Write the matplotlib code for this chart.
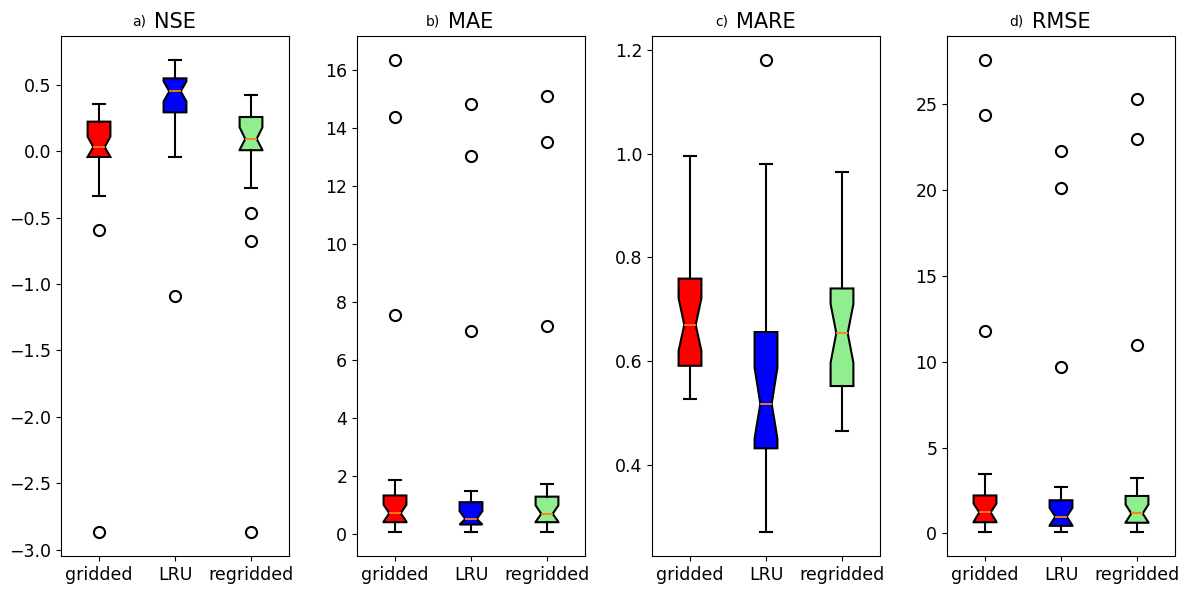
import matplotlib
matplotlib.use('Agg')
import matplotlib.pyplot as plt

models = ['gridded', 'LRU', 'regridded']
metrics = ['NSE', 'MAE', 'MARE', 'RMSE']
panel_labels = ['a)', 'b)', 'c)', 'd)']
colors = ['red', 'blue', 'lightgreen']

# box statistics, one list per metric (gridded, LRU, regridded)
med = {'NSE': [0.032, 0.451, 0.093], 'MAE': [0.73, 0.53, 0.71],
       'MARE': [0.670, 0.518, 0.654], 'RMSE': [1.23, 0.98, 1.16]}
q1 = {'NSE': [-0.043, 0.293, 0.008], 'MAE': [0.42, 0.34, 0.42],
      'MARE': [0.591, 0.432, 0.552], 'RMSE': [0.65, 0.44, 0.62]}
q3 = {'NSE': [0.223, 0.549, 0.258], 'MAE': [1.34, 1.11, 1.30],
      'MARE': [0.759, 0.656, 0.740], 'RMSE': [2.21, 1.93, 2.18]}
whislo = {'NSE': [-0.34, -0.043, -0.273], 'MAE': [0.07, 0.08, 0.08],
          'MARE': [0.527, 0.270, 0.465], 'RMSE': [0.10, 0.06, 0.10]}
whishi = {'NSE': [0.353, 0.69, 0.426], 'MAE': [1.89, 1.51, 1.74],
          'MARE': [0.995, 0.979, 0.964], 'RMSE': [3.45, 2.73, 3.25]}
cilo = {'NSE': [-0.043, 0.376, 0.010], 'MAE': [0.44, 0.34, 0.43],
        'MARE': [0.620, 0.451, 0.597], 'RMSE': [0.67, 0.46, 0.64]}
cihi = {'NSE': [0.11, 0.526, 0.18], 'MAE': [1.02, 0.80, 1.00],
        'MARE': [0.721, 0.587, 0.710], 'RMSE': [1.73, 1.48, 1.68]}
fliers = {'NSE': [[-0.59, -2.87], [-1.09], [-0.464, -0.677, -2.87]],
          'MAE': [[16.35, 14.38, 7.57], [14.83, 13.04, 6.99], [15.10, 13.52, 7.16]],
          'MARE': [[], [1.181], []],
          'RMSE': [[27.6, 24.4, 11.8], [22.3, 20.15, 9.7], [25.3, 23.0, 11.0]]}

fig = plt.figure(figsize=(11.87, 5.9), dpi=100)
lefts = [61, 357, 652, 947]
for i, m in enumerate(metrics):
    ax = fig.add_axes([lefts[i] / 1187, 34 / 590, 228 / 1187, 520 / 590])
    stats = []
    for j, name in enumerate(models):
        stats.append(dict(med=med[m][j], q1=q1[m][j], q3=q3[m][j],
                          whislo=whislo[m][j], whishi=whishi[m][j],
                          cilo=cilo[m][j], cihi=cihi[m][j],
                          fliers=fliers[m][j], label=name))
    bp = ax.bxp(stats, widths=0.3, shownotches=True, patch_artist=True,
                flierprops=dict(marker='o', markersize=8, markeredgewidth=1.5,
                                markerfacecolor='none', markeredgecolor='black'),
                medianprops=dict(color='tab:orange', linewidth=1.3))
    for patch, c in zip(bp['boxes'], colors):
        patch.set_facecolor(c)
        patch.set_edgecolor('black')
        patch.set_linewidth(1.5)
    for w in bp['whiskers'] + bp['caps']:
        w.set_linewidth(1.5)
    ax.tick_params(labelsize=12.5)
    t = ax.set_title(m, fontsize=15)
    # small panel letter just left of the title
    ax.annotate(panel_labels[i], xy=(0, 0), xycoords=t, xytext=(-6, 2),
                textcoords='offset points', fontsize=10, ha='right', va='bottom')

fig.savefig('out.png', dpi=100)
